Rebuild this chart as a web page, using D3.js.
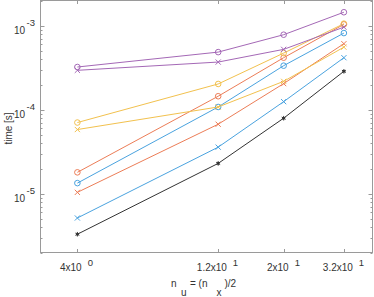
<!DOCTYPE html>
<html><head><meta charset="utf-8">
<script src="https://cdn.jsdelivr.net/npm/d3@7"></script>
<style>body{margin:0;background:#fff}svg{display:block}text{font-family:"Liberation Sans",Arial,sans-serif}</style>
</head><body>
<svg id="c" width="374" height="297"></svg>
<script>
const xVals = [4, 12, 20, 32];
const xTickMant = ["4", "1.2", "2", "3.2"];
const xTickExp = ["0", "1", "1", "1"];
const yTickExp = [-3, -4, -5];
const purpleO = [3.23e-4, 4.86e-4, 7.83e-4, 1.45e-3];
const purpleX = [2.95e-4, 3.70e-4, 5.24e-4, 9.64e-4];
const yellowO = [7.05e-5, 2.03e-4, 4.73e-4, 1.06e-3];
const yellowX = [5.82e-5, 1.08e-4, 2.18e-4, 5.57e-4];
const orangeO = [1.80e-5, 1.45e-4, 4.17e-4, 1.04e-3];
const orangeX = [1.04e-5, 6.73e-5, 2.05e-4, 6.12e-4];
const blueO = [1.34e-5, 1.08e-4, 3.35e-4, 8.19e-4];
const blueX = [5.15e-6, 3.59e-5, 1.25e-4, 4.17e-4];
const blackStar = [3.30e-6, 2.30e-5, 7.94e-5, 2.87e-4];

const series = [
  {v: blackStar, c: "#333333", m: "star"},
  {v: blueX, c: "#4aa3df", m: "x"},
  {v: orangeX, c: "#ec7d57", m: "x"},
  {v: blueO, c: "#4aa3df", m: "o"},
  {v: orangeO, c: "#ec7d57", m: "o"},
  {v: yellowX, c: "#f2c14e", m: "x"},
  {v: yellowO, c: "#f2c14e", m: "o"},
  {v: purpleX, c: "#a468b6", m: "x"},
  {v: purpleO, c: "#a468b6", m: "o"}
];

const L = 40.5, R = 372.5, T = 0.5, B = 252.5;
const x = d3.scaleLog().domain([3, 40]).range([L, R]);
const y = d3.scaleLog().domain([2e-6, 2e-3]).range([B, T]);
const svg = d3.select("#c");
const axisCol = "#9a9a9a", txtCol = "#333";

// frame
svg.append("rect").attr("x", L).attr("y", T).attr("width", R - L).attr("height", B - T)
  .attr("fill", "none").attr("stroke", axisCol).attr("stroke-width", 1);

// x ticks (inward, bottom and top)
const gx = svg.append("g");
xVals.forEach((v, i) => {
  const px = Math.round(x(v)) + 0.5;
  gx.append("line").attr("x1", px).attr("x2", px).attr("y1", B).attr("y2", B - 3.5).attr("stroke", axisCol);
  gx.append("line").attr("x1", px).attr("x2", px).attr("y1", T).attr("y2", T + 3.5).attr("stroke", axisCol);
  const m = gx.append("text").attr("y", 271).attr("font-size", 10).attr("fill", txtCol).text(xTickMant[i] + "x10");
  const s = gx.append("text").attr("y", 266).attr("font-size", 9.5).attr("fill", txtCol).text(xTickExp[i]);
  const wm = m.node().getComputedTextLength(), ws = s.node().getComputedTextLength();
  const gap = 6;
  const start = px - 1 - (wm + gap + ws) / 2;
  m.attr("x", start);
  s.attr("x", start + wm + gap);
});

// y ticks major + minor
const gy = svg.append("g");
for (let e = -6; e <= -3; e++) {
  for (let k = 1; k <= 9; k++) {
    const v = k * Math.pow(10, e);
    if (v < 2e-6 || v > 2e-3) continue;
    const py = Math.round(y(v)) + 0.5;
    const len = k === 1 ? 4 : 2;
    gy.append("line").attr("x1", L).attr("x2", L + len).attr("y1", py).attr("y2", py).attr("stroke", axisCol);
    gy.append("line").attr("x1", R).attr("x2", R - len).attr("y1", py).attr("y2", py).attr("stroke", axisCol);
  }
}
yTickExp.forEach(e => {
  const py = y(Math.pow(10, e));
  gy.append("text").attr("x", 25).attr("y", py + 8).attr("font-size", 10).attr("fill", txtCol)
    .attr("text-anchor", "end").text("10");
  gy.append("text").attr("x", 26.5).attr("y", py + 0.5).attr("font-size", 9.5).attr("fill", txtCol)
    .attr("text-anchor", "start").text("-" + (-e));
});

// axis titles
svg.append("text").attr("transform", `translate(12,${(T + B) / 2 + 2}) rotate(-90)`)
  .attr("text-anchor", "middle").attr("font-size", 10).attr("fill", txtCol).text("time [s]");
const xt = svg.append("g").attr("font-size", 10).attr("fill", txtCol);
xt.append("text").attr("x", 171).attr("y", 287).text("n");
xt.append("text").attr("x", 181).attr("y", 296).text("u");
xt.append("text").attr("x", 190).attr("y", 287).text("= (n");
xt.append("text").attr("x", 216.5).attr("y", 296).text("x");
xt.append("text").attr("x", 224.5).attr("y", 287).text(")/2");

// lines + markers
const line = d3.line().x((d, i) => x(xVals[i])).y(d => y(d));
series.forEach(s => {
  svg.append("path").attr("d", line(s.v)).attr("fill", "none").attr("stroke", s.c).attr("stroke-width", 1);
  s.v.forEach((d, i) => {
    const px = x(xVals[i]), py = y(d);
    if (s.m === "o") {
      svg.append("circle").attr("cx", px).attr("cy", py).attr("r", 2.8).attr("fill", "none").attr("stroke", s.c).attr("stroke-width", 1);
    } else if (s.m === "x") {
      const r = 2.6;
      svg.append("path").attr("d", `M${px - r},${py - r}L${px + r},${py + r}M${px - r},${py + r}L${px + r},${py - r}`)
        .attr("stroke", s.c).attr("stroke-width", 1).attr("fill", "none");
    } else {
      svg.append("path").attr("d", d3.symbol(d3.symbolAsterisk, 14)()).attr("transform", `translate(${px},${py})`)
        .attr("stroke", s.c).attr("stroke-width", 1).attr("fill", s.c);
      svg.append("circle").attr("cx", px).attr("cy", py).attr("r", 1.3).attr("fill", s.c);
    }
  });
});
</script>
</body></html>
